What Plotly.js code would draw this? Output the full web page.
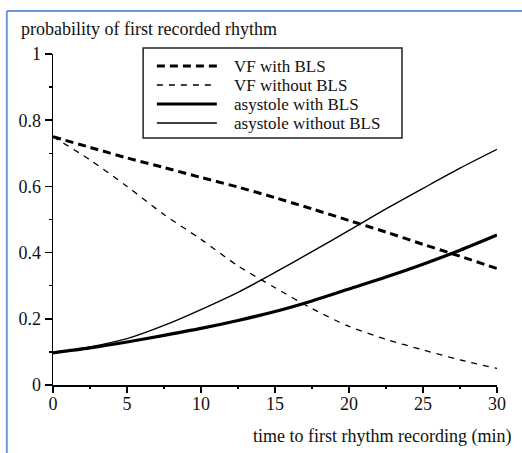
<!DOCTYPE html>
<html>
<head>
<meta charset="utf-8">
<script src="https://cdn.plot.ly/plotly-3.0.1.min.js"></script>
<style>
  html, body { margin: 0; padding: 0; background: #fff; }
  #chart { width: 522px; height: 453px; }
</style>
</head>
<body>
<div id="chart"></div>
<script>
// time to first rhythm recording (min)
const minutes = [0, 2.5, 5, 7.5, 10, 12.5, 15, 17.5, 20, 22.5, 25, 27.5, 30];

// probability of each first recorded rhythm
const vfWithBLS      = [0.750, 0.718, 0.686, 0.657, 0.627, 0.598, 0.566, 0.532, 0.497, 0.462, 0.425, 0.389, 0.352];
const vfWithoutBLS   = [0.750, 0.680, 0.600, 0.515, 0.440, 0.360, 0.294, 0.231, 0.177, 0.138, 0.106, 0.076, 0.050];
const asysWithBLS    = [0.097, 0.112, 0.130, 0.150, 0.171, 0.195, 0.222, 0.254, 0.290, 0.326, 0.365, 0.407, 0.453];
const asysWithoutBLS = [0.097, 0.115, 0.140, 0.180, 0.228, 0.280, 0.340, 0.403, 0.467, 0.532, 0.594, 0.655, 0.712];

const seriesNames = ['VF with BLS', 'VF without BLS', 'asystole with BLS', 'asystole without BLS'];

const serif = 'Liberation Serif, DejaVu Serif, serif';

// line style per series: thick/thin, dashed/solid
const lineStyles = [
  { width: 3.0, dash: '8px,5px' },
  { width: 1.3, dash: '6px,6px' },
  { width: 3.2, dash: 'solid' },
  { width: 1.4, dash: 'solid' }
];
const seriesValues = [vfWithBLS, vfWithoutBLS, asysWithBLS, asysWithoutBLS];

const data = seriesValues.map((y, i) => ({
  x: minutes, y: y, name: seriesNames[i], type: 'scatter', mode: 'lines',
  showlegend: false,
  line: { color: '#000', width: lineStyles[i].width, dash: lineStyles[i].dash,
          shape: 'spline', smoothing: 0.8 }
}));

// hand-laid legend box, in paper coordinates
const legendBox = { x0: 0.203, x1: 0.786, y0: 0.746, y1: 1.018 };
const legendRowY = [0.9637, 0.9063, 0.8489, 0.7915];
const legendKeyX = [0.234, 0.369];
const legendTextX = 0.405;

const shapes = [
  // page frame (left and top edges)
  { type: 'line', xref: 'paper', yref: 'paper', x0: -0.104, x1: -0.104, y0: 1.13, y1: -0.3,
    line: { color: '#6a9ad6', width: 2 } },
  { type: 'line', xref: 'paper', yref: 'paper', x0: -0.104, x1: 1.1, y0: 1.13, y1: 1.13,
    line: { color: '#6a9ad6', width: 2 } },
  { type: 'rect', xref: 'paper', yref: 'paper',
    x0: legendBox.x0, x1: legendBox.x1, y0: legendBox.y0, y1: legendBox.y1,
    line: { color: '#222', width: 1.5 }, fillcolor: '#fff', layer: 'above' }
];
const annotations = [
  {
    text: 'probability of first recorded rhythm', xref: 'paper', yref: 'paper',
    x: -0.077, y: 1.075, xanchor: 'left', yanchor: 'middle', showarrow: false,
    font: { family: serif, size: 18, color: '#111' }
  },
  {
    text: 'time to first rhythm recording (min)', xref: 'paper', yref: 'paper',
    x: 1.036, y: -0.155, xanchor: 'right', yanchor: 'middle', showarrow: false,
    font: { family: serif, size: 18, color: '#111' }
  }
];
seriesNames.forEach((name, i) => {
  shapes.push({
    type: 'line', xref: 'paper', yref: 'paper',
    x0: legendKeyX[0], x1: legendKeyX[1], y0: legendRowY[i], y1: legendRowY[i],
    line: { color: '#000', width: lineStyles[i].width, dash: lineStyles[i].dash }, layer: 'above'
  });
  annotations.push({
    text: name, xref: 'paper', yref: 'paper', x: legendTextX, y: legendRowY[i],
    xanchor: 'left', yanchor: 'middle', showarrow: false, borderpad: 0,
    font: { family: serif, size: 17, color: '#111' }
  });
});

const layout = {
  width: 522, height: 453,
  margin: { l: 53, r: 25, t: 54, b: 68 },
  paper_bgcolor: '#fff', plot_bgcolor: '#fff',
  font: { family: serif, size: 18, color: '#111' },
  xaxis: {
    range: [0, 30], tickvals: [0, 5, 10, 15, 20, 25, 30],
    showgrid: false, zeroline: false, showline: true, linecolor: '#000', linewidth: 1.5,
    ticks: 'outside', ticklen: 6, tickwidth: 1.5, tickcolor: '#000',
    ticklabelstandoff: -4,
    minor: { dtick: 2.5, ticks: 'outside', ticklen: 2, tickwidth: 1.5, tickcolor: '#000' },
    tickfont: { family: serif, size: 18, color: '#111' },
    fixedrange: true
  },
  yaxis: {
    range: [0, 1], tickvals: [0, 0.2, 0.4, 0.6, 0.8, 1],
    showgrid: false, zeroline: false, showline: true, linecolor: '#000', linewidth: 1.5,
    ticks: 'outside', ticklen: 7, tickwidth: 1.5, tickcolor: '#000',
    minor: { dtick: 0.1, ticks: 'outside', ticklen: 3, tickwidth: 1.5, tickcolor: '#000' },
    tickfont: { family: serif, size: 18, color: '#111' },
    fixedrange: true
  },
  annotations: annotations,
  shapes: shapes
};

Plotly.newPlot('chart', data, layout, { displayModeBar: false, staticPlot: true });
</script>
</body>
</html>
